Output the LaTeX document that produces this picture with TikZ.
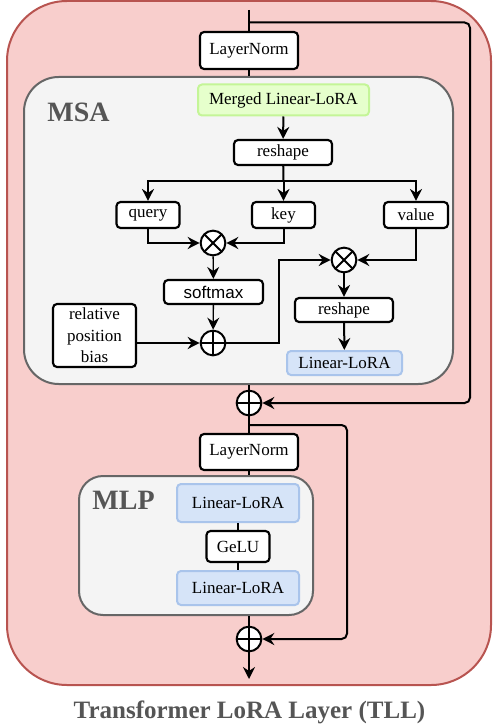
\documentclass[tikz,border=0pt]{standalone}
\usepackage{fontspec}
\setmainfont{Liberation Serif}
\newfontfamily\arialfont{Liberation Sans}
\usetikzlibrary{arrows.meta}

\definecolor{tllfill}{HTML}{F8CECC}
\definecolor{tlldraw}{HTML}{B85450}
\definecolor{blockfill}{HTML}{F4F4F4}
\definecolor{blockdraw}{HTML}{666666}
\definecolor{greenfill}{HTML}{E6FFCC}
\definecolor{greendraw}{HTML}{C4F597}
\definecolor{bluefill}{HTML}{D6E4F8}
\definecolor{bluedraw}{HTML}{A9C4EB}
\definecolor{labelgray}{HTML}{555555}

\tikzset{
  >={Stealth[length=9pt,width=9pt,inset=3pt]},
  txt/.style={font=\fontsize{12.75}{16}\selectfont},
  box/.style={txt, draw, line width=1.6pt, rounded corners=3pt, fill=white, inner sep=0pt},
  greenbox/.style={txt, draw=greendraw, fill=greenfill, line width=1.5pt, rounded corners=3pt, inner sep=0pt},
  lorabox/.style={txt, draw=bluedraw, fill=bluefill, line width=1.5pt, rounded corners=3pt, inner sep=0pt},
  block/.style={draw=blockdraw, fill=blockfill, line width=1.5pt, inner sep=0pt},
  blocklabel/.style={font=\fontsize{21}{24}\selectfont\bfseries, text=labelgray},
  op/.style={circle, draw, fill=white, line width=1.5pt, minimum size=18.5pt, inner sep=0pt},
  times/.style={op, path picture={\draw[line width=1.5pt]
    (path picture bounding box.south west) -- (path picture bounding box.north east)
    (path picture bounding box.north west) -- (path picture bounding box.south east);}},
  plus/.style={op, path picture={\draw[line width=1.5pt]
    (path picture bounding box.north) -- (path picture bounding box.south)
    (path picture bounding box.west) -- (path picture bounding box.east);}},
  wire/.style={line width=1.5pt},
  thinwire/.style={line width=1pt},
}

\begin{document}
\begin{tikzpicture}[x=0.75pt,y=0.75pt,yscale=-1,xscale=1]
\useasboundingbox (0,0) rectangle (492,727);

% Outer layer
\node[draw=tlldraw, fill=tllfill, line width=1.5pt, rounded corners=45pt,
  minimum width=363pt, minimum height=513pt] (tll) at (249,343) {};
\node[font=\fontsize{18.75}{22}\selectfont\bfseries, text=labelgray] (title) at (249.5,712) {Transformer LoRA Layer (TLL)};

% Blocks
\node[block, rounded corners=26pt, minimum width=321.75pt, minimum height=230.25pt] (msa) at (238.5,230.5) {};
\node[blocklabel] (msalabel) at (78.5,112) {MSA};
\node[block, rounded corners=18pt, minimum width=175.5pt, minimum height=104.25pt] (mlp) at (196,545.5) {};
\node[blocklabel] (mlplabel) at (123.5,500) {MLP};

% Nodes
\node[box, minimum width=73.5pt, minimum height=27.75pt] (ln1) at (249,50.5) {LayerNorm};
\node[greenbox, minimum width=128.25pt, minimum height=23.25pt] (merged) at (283.5,100) {Merged Linear-LoRA};
\node[box, minimum width=73.5pt, minimum height=18.75pt] (reshape1) at (283,152.5) {reshape};
\node[box, minimum width=47.25pt, minimum height=19.5pt] (query) at (148,215) {query};
\node[box, minimum width=47.25pt, minimum height=19.5pt] (key) at (283.5,215) {key};
\node[box, minimum width=48pt, minimum height=19.5pt] (value) at (416,215) {value};
\node[times] (times1) at (213,243) {};
\node[box, minimum width=74.25pt, minimum height=18pt, font=\arialfont\fontsize{12.75}{16}\selectfont] (softmax) at (213.5,292) {softmax};
\node[plus] (plus1) at (213,343) {};
\node[box, minimum width=62.25pt, minimum height=47.25pt, align=center] (relpos) at (94.5,335.5) {relative\\position\\bias};
\node[times] (times2) at (344,260) {};
\node[box, minimum width=73.5pt, minimum height=18pt] (reshape2) at (344,310) {reshape};
\node[lorabox, minimum width=86.25pt, minimum height=18pt] (lora) at (344.5,363) {Linear-LoRA};
\node[plus] (plus2) at (249,403) {};
\node[box, minimum width=73.5pt, minimum height=27pt] (ln2) at (249,452) {LayerNorm};
\node[lorabox, minimum width=91.5pt, minimum height=28.5pt] (fc1) at (238,503) {Linear-LoRA};
\node[box, minimum width=47.25pt, minimum height=23.25pt] (gelu) at (238,546.5) {GeLU};
\node[lorabox, minimum width=91.5pt, minimum height=25.5pt] (fc2) at (238,588) {Linear-LoRA};
\node[plus] (plus3) at (249,639) {};

\coordinate (in) at (249,10);
\coordinate (split1) at (249,22.5);
\coordinate (skip1) at (470,22.5);
\coordinate (fork) at (283.5,181);
\coordinate (bend) at (279,260);
\coordinate (split2) at (249,425);
\coordinate (skip2) at (347,425);
\coordinate (out) at (249,679);

% Connectors
\draw[wire] (in) -- (ln1);
\draw[wire, ->, rounded corners=4pt] (split1) -- (skip1) |- (plus2);
\draw[wire] (ln1) -- (ln1 |- msa.north);
\draw[wire, ->] (merged) -- (reshape1);
\draw[wire] (reshape1) -- (fork);
\draw[wire, ->] (fork) -| (query);
\draw[wire, ->] (fork) -- (key);
\draw[wire, ->] (fork) -| (value);
\draw[wire, ->] (query) |- (times1);
\draw[wire, ->] (key) |- (times1);
\draw[thinwire, ->] (times1) -- (softmax);
\draw[thinwire, ->] (softmax) -- (plus1);
\draw[wire, ->] (relpos.east |- plus1) -- (plus1);
\draw[wire, ->] (plus1) -| (bend) -- (times2);
\draw[wire, ->] (value) |- (times2);
\draw[line width=2pt, ->] (times2) -- (reshape2);
\draw[wire, ->] (reshape2) -- (lora);
\draw[wire] (plus2 |- msa.south) -- (plus2);
\draw[wire] (plus2) -- (ln2);
\draw[wire, ->, rounded corners=4pt] (split2) -- (skip2) |- (plus3);
\draw[wire] (ln2) -- (ln2 |- mlp.north);
\draw[wire] (fc1) -- (gelu);
\draw[wire] (gelu) -- (fc2);
\draw[wire] (plus3 |- mlp.south) -- (plus3);
\draw[wire, ->] (plus3) -- (out);

\end{tikzpicture}
\end{document}
